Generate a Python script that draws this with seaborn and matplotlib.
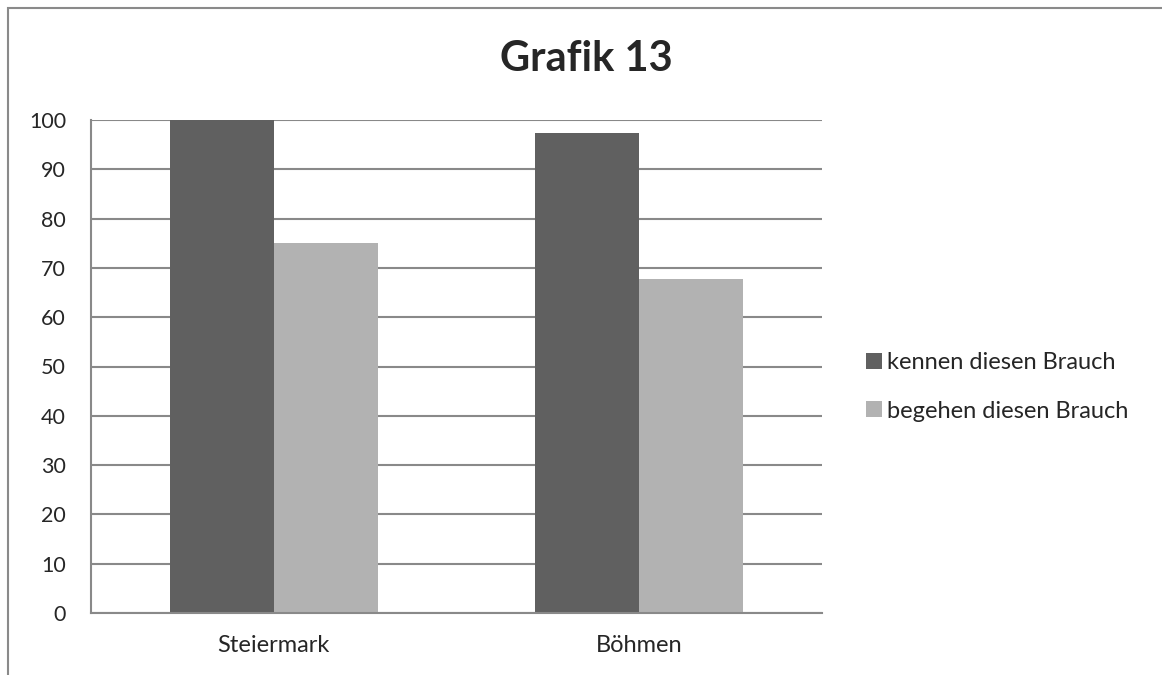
import matplotlib
matplotlib.use("Agg")
import matplotlib.pyplot as plt
import seaborn as sns
import pandas as pd
from matplotlib.patches import Rectangle, Patch
from matplotlib.ticker import FixedLocator

categories = ["Steiermark", "Böhmen"]
series_names = ["kennen diesen Brauch", "begehen diesen Brauch"]
kennen = [100, 97.4]
begehen = [75.1, 67.7]
yticks = [0, 10, 20, 30, 40, 50, 60, 70, 80, 90, 100]

colors = ["#606060", "#b2b2b2"]
grid_c = "#898989"

rows = []
for c, k, b in zip(categories, kennen, begehen):
    rows.append({"Region": c, "Serie": series_names[0], "Wert": k})
    rows.append({"Region": c, "Serie": series_names[1], "Wert": b})
df = pd.DataFrame(rows)

sns.set_style("white")
plt.rcParams["font.family"] = ["Lato", "DejaVu Sans"]

fig = plt.figure(figsize=(11.62, 6.75), dpi=100)
ax = fig.add_axes([91/1162, 1-613/675, (822-91)/1162, (613-120)/675])

sns.barplot(data=df, x="Region", y="Wert", hue="Serie", hue_order=series_names,
            palette=colors, width=0.57, gap=0, ax=ax, legend=False,
            saturation=1, linewidth=0, errorbar=None)

ax.set_xlim(-0.5, 1.5)
ax.set_ylim(0, 100)
ax.set_yticks(yticks)
ax.set_yticklabels([str(v) for v in yticks])
ax.yaxis.grid(True, color=grid_c, linewidth=1.5)
ax.set_axisbelow(True)
ax.set_xlabel("")
ax.set_ylabel("")
for s in ["top", "right"]:
    ax.spines[s].set_visible(False)
for s in ["left", "bottom"]:
    ax.spines[s].set_color(grid_c)
    ax.spines[s].set_linewidth(1.5)
ax.tick_params(axis="y", length=6, width=1.5, color=grid_c, labelsize=15.5, pad=12, direction="out")
ax.tick_params(axis="x", which="major", length=0, labelsize=17, pad=16)
ax.xaxis.set_minor_locator(FixedLocator([-0.5, 0.5, 1.5]))
ax.tick_params(axis="x", which="minor", length=6, width=1.5, color=grid_c, direction="out")

fig.text(586/1162, 1-59/675, "Grafik 13", ha="center", va="center",
         fontsize=30, fontweight="bold")

handles = [Patch(facecolor=colors[0], edgecolor="none"),
           Patch(facecolor=colors[1], edgecolor="none")]
fig.legend(handles, series_names, loc="center left",
           bbox_to_anchor=(845/1162, 1-387/675), frameon=False,
           fontsize=17, handlelength=0.65, handleheight=0.65,
           handletextpad=0.22, labelspacing=1.15)

frame = Rectangle((8/1162, -0.2), 1.2, (1 - 8/675) + 0.2,
                  transform=fig.transFigure, fill=False,
                  edgecolor="#8a8a8a", linewidth=1.5, zorder=0)
fig.patches.append(frame)

fig.savefig("out.png", dpi=100)
